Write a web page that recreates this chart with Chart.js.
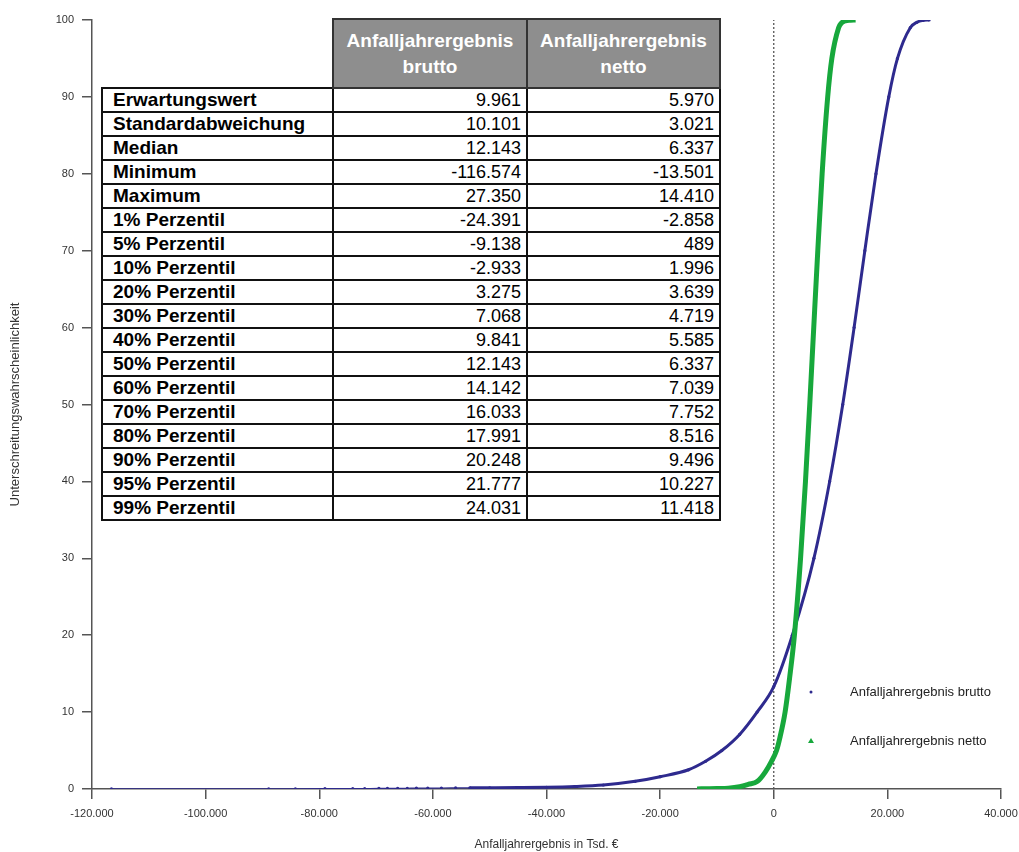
<!DOCTYPE html>
<html lang="de">
<head>
<meta charset="utf-8">
<title>Anfalljahrergebnis</title>
<script src="https://cdn.jsdelivr.net/npm/chart.js@4.4.1/dist/chart.umd.min.js"></script>
<style>
    body { margin: 0; background: #fff; }
    #wrap { position: relative; width: 1019px; height: 852px; }
    #stats {
        position: absolute; left: 101px; top: 18px;
        border-collapse: collapse; table-layout: fixed;
        font-family: Arial, "Liberation Sans", sans-serif;
        color: #000; background: #fff;
    }
    #stats th, #stats td { border: 2px solid #111; padding: 0; }
    #stats th.leer { border: none; background: #fff; }
    #stats th.kopf {
        background: #8e8e8e; color: #fff; font-size: 19px; font-weight: bold;
        height: 67px; line-height: 26px; text-align: center; border-color: #333;
    }
    #stats td { height: 22px; line-height: 22px; }
    #stats td.name { font-weight: bold; font-size: 19px; padding-left: 10px; }
    #stats td.wert { font-size: 18px; text-align: right; padding-right: 5px; }
</style>
</head>
<body>
<div id="wrap">
    <canvas id="miGrafico"></canvas>
    <table id="stats">
        <colgroup><col style="width:231px"><col style="width:194px"><col style="width:193px"></colgroup>
        <thead><tr><th class="leer"></th><th class="kopf"></th><th class="kopf"></th></tr></thead>
        <tbody id="stats-body"></tbody>
    </table>
</div>
<script>
// Kopfzeilen und Kennzahlen der Tabelle (Tsd. €)
const serienNamen = ['Anfalljahrergebnis brutto', 'Anfalljahrergebnis netto'];
const kopfZeilen = [['Anfalljahrergebnis', 'brutto'], ['Anfalljahrergebnis', 'netto']];
const kennzahlen = ['Erwartungswert', 'Standardabweichung', 'Median', 'Minimum', 'Maximum',
    '1% Perzentil', '5% Perzentil', '10% Perzentil', '20% Perzentil', '30% Perzentil',
    '40% Perzentil', '50% Perzentil', '60% Perzentil', '70% Perzentil', '80% Perzentil',
    '90% Perzentil', '95% Perzentil', '99% Perzentil'];
const werteBrutto = [9961, 10101, 12143, -116574, 27350, -24391, -9138, -2933, 3275, 7068,
    9841, 12143, 14142, 16033, 17991, 20248, 21777, 24031];
const werteNetto = [5970, 3021, 6337, -13501, 14410, -2858, 489, 1996, 3639, 4719,
    5585, 6337, 7039, 7752, 8516, 9496, 10227, 11418];

// Verteilungskurven: Ergebnis (x) und Unterschreitungswahrscheinlichkeit in % (y)
const bruttoX = [-116574, -88900, -84200, -79000, -74100, -72000, -69500, -68000, -66200,
    -64500, -62900, -60900, -58500, -56000, -53500, -50000, -45000, -40000, -35000, -30000,
    -24391, -20000, -15000, -12000, -9138, -6000, -2933, 0, 3275, 7068, 9841, 12143,
    14142, 16033, 17991, 20248, 21777, 24031, 25200, 26300, 27350];
const bruttoY = [0.01, 0.02, 0.03, 0.04, 0.05, 0.06, 0.07, 0.08, 0.09,
    0.1, 0.11, 0.12, 0.13, 0.14, 0.15, 0.16, 0.18, 0.22, 0.32, 0.52,
    1, 1.6, 2.5, 3.6, 5, 7.1, 10, 13.3, 20, 30, 40, 50,
    60, 70, 80, 90, 95, 99, 99.7, 99.95, 100];
const nettoX = [-13501, -11500, -10000, -8000, -6000, -4500, -2858, -1500, -400, 489, 1060,
    1996, 2800, 3639, 4719, 5585, 6337, 7039, 7752, 8516, 9496, 10227, 11418, 11900, 12600,
    13500, 14410];
const nettoY = [0.01, 0.03, 0.05, 0.1, 0.3, 0.6, 1, 2.2, 3.6, 5, 6.6,
    10, 14.5, 20, 30, 40, 50, 60, 70, 80, 90, 95, 99, 99.6, 99.9,
    99.98, 100];

const FARBE_BRUTTO = '#2e2a8e';
const FARBE_NETTO = '#17a83c';
const fmt = v => v.toLocaleString('de-DE');

// Tabelle füllen
function tabelleAufbauen() {
    const kopf = document.querySelectorAll('#stats th.kopf');
    kopfZeilen.forEach((zeilen, i) => { kopf[i].innerHTML = zeilen.join('<br>'); });
    const body = document.getElementById('stats-body');
    kennzahlen.forEach((name, i) => {
        const tr = document.createElement('tr');
        tr.innerHTML = `<td class="name">${name}</td><td class="wert">${fmt(werteBrutto[i])}</td><td class="wert">${fmt(werteNetto[i])}</td>`;
        body.appendChild(tr);
    });
}

// Legende rechts unten im Diagramm
const legendePlugin = {
    id: 'legende',
    afterDatasetsDraw(chart) {
        const { ctx, chartArea } = chart;
        const mx = chartArea.right - 190;
        const tx = chartArea.right - 151;
        const y1 = chartArea.bottom - 97;
        const y2 = chartArea.bottom - 48;
        ctx.save();
        ctx.fillStyle = FARBE_BRUTTO;
        ctx.beginPath();
        ctx.arc(mx, y1, 1.5, 0, Math.PI * 2);
        ctx.fill();
        ctx.fillStyle = FARBE_NETTO;
        ctx.beginPath();
        ctx.moveTo(mx, y2 - 3);
        ctx.lineTo(mx + 3, y2 + 2);
        ctx.lineTo(mx - 3, y2 + 2);
        ctx.closePath();
        ctx.fill();
        ctx.fillStyle = '#222';
        ctx.font = '13px Arial, "Liberation Sans", sans-serif';
        ctx.textBaseline = 'middle';
        ctx.fillText(serienNamen[0], tx, y1);
        ctx.fillText(serienNamen[1], tx, y2);
        ctx.restore();
    }
};

function crearGrafico() {
    Chart.defaults.font.family = 'Arial, "Liberation Sans", sans-serif';
    const ctx = document.getElementById('miGrafico').getContext('2d');
    const achse = {
        grid: { drawOnChartArea: false, drawTicks: true, tickLength: 10, color: '#555', lineWidth: 1.5 },
        border: { display: true, color: '#555', width: 1.5 }
    };
    new Chart(ctx, {
        type: 'scatter',
        data: {
            datasets: [
                {
                    label: serienNamen[1],
                    data: nettoX.map((x, i) => ({ x, y: nettoY[i] })),
                    showLine: true,
                    borderColor: FARBE_NETTO,
                    backgroundColor: FARBE_NETTO,
                    borderWidth: 5,
                    pointRadius: 0,
                    cubicInterpolationMode: 'monotone'
                },
                {
                    label: serienNamen[0],
                    data: bruttoX.map((x, i) => ({ x, y: bruttoY[i] })),
                    showLine: true,
                    borderColor: FARBE_BRUTTO,
                    backgroundColor: FARBE_BRUTTO,
                    borderWidth: 3,
                    segment: { borderWidth: c => (c.p1.parsed.x < -52000 ? 1.2 : 3) },
                    pointRadius: 1.6,
                    pointBorderWidth: 0,
                    cubicInterpolationMode: 'monotone'
                },
                {
                    label: 'Null',
                    data: [{ x: 0, y: 0 }, { x: 0, y: 100 }],
                    showLine: true,
                    borderColor: '#555',
                    borderWidth: 1.3,
                    borderDash: [2, 2],
                    pointRadius: 0
                }
            ]
        },
        options: {
            responsive: true,
            maintainAspectRatio: false,
            animation: false,
            layout: { padding: { top: 20, right: 18, left: 0, bottom: 0 } },
            plugins: { legend: { display: false }, tooltip: { enabled: false } },
            scales: {
                x: {
                    type: 'linear', min: -120000, max: 40000,
                    ticks: { stepSize: 20000, callback: fmt, color: '#333', font: { size: 11 }, padding: 8, maxRotation: 0 },
                    title: { display: true, text: 'Anfalljahrergebnis in Tsd. €', color: '#333', font: { size: 12 }, padding: { top: 0, bottom: 0 } },
                    afterFit: s => { s.height = 63; s.paddingLeft = 0; s.paddingRight = 0; },
                    ...achse
                },
                y: {
                    min: 0, max: 100,
                    ticks: { stepSize: 10, color: '#333', font: { size: 11 }, padding: 8 },
                    title: { display: true, text: 'Unterschreitungswahrscheinlichkeit', color: '#333', font: { size: 13 }, padding: { top: 8, bottom: 0 } },
                    afterFit: s => { s.width = 92; s.paddingTop = 0; s.paddingBottom = 0; },
                    ...achse
                }
            }
        },
        plugins: [legendePlugin]
    });
}

tabelleAufbauen();
crearGrafico();
</script>
</body>
</html>
